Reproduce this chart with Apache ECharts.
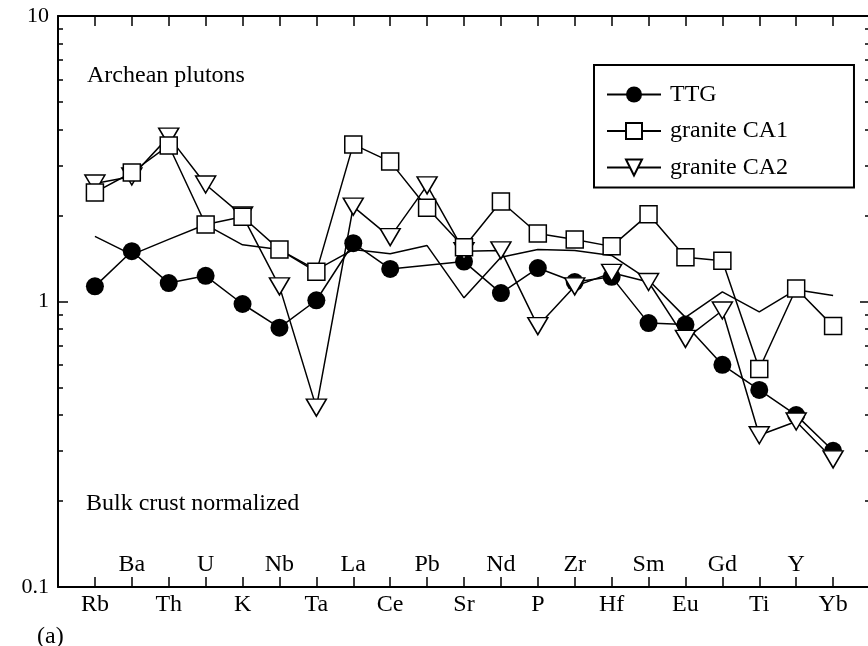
<!DOCTYPE html>
<html>
<head>
<meta charset="utf-8">
<script src="https://cdn.jsdelivr.net/npm/echarts@6/dist/echarts.min.js"></script>
<style>
html,body{margin:0;padding:0;background:#fff;}
#chart{width:868px;height:646px;}
</style>
</head>
<body>
<div id="chart"></div>
<script>
// ---- data ----
const categories = ['Rb','Ba','Th','U','K','Nb','Ta','La','Ce','Pb','Sr','Nd','P','Zr','Hf','Sm','Eu','Gd','Ti','Y','Yb'];
const ttg = [1.13,1.50,1.16,1.23,0.98,0.81,1.01,1.60,1.30,null,1.38,1.07,1.31,1.17,1.22,0.84,0.83,0.60,0.49,0.40,0.30];
const graniteCA1 = [2.41,2.83,3.52,1.86,1.98,1.52,1.27,3.55,3.09,2.13,1.55,2.24,1.73,1.65,1.56,2.02,1.43,1.39,0.58,1.11,0.82];
const graniteCA2 = [2.59,2.74,3.78,2.57,2.00,1.13,0.425,2.15,1.68,2.55,1.50,1.51,0.82,1.13,1.26,1.17,0.74,0.93,0.34,0.38,0.28];
const plainLine = [1.69,1.46,1.65,1.86,1.58,1.52,1.29,1.52,1.47,1.57,1.03,1.43,1.52,1.51,1.45,1.19,0.88,1.08,0.92,1.10,1.05];
const yMajorTicks = [0.1, 1, 10];
const yMinorTicks = [0.2,0.3,0.4,0.5,0.6,0.7,0.8,0.9,2,3,4,5,6,7,8,9];
const seriesNames = ['TTG','granite CA1','granite CA2'];

const FONT = "'Liberation Serif','Times New Roman',serif";
const toXY = arr => arr.map((v, i) => [i, v]);

const chart = echarts.init(document.getElementById('chart'), null, {renderer: 'canvas'});

const xBase = {
  type: 'value', min: -1, max: 21, interval: 1, gridIndex: 0,
  splitLine: {show: false}
};
const yBase = {
  type: 'log', logBase: 10, min: 0.1, max: 10, gridIndex: 0,
  splitLine: {show: false}
};

const option = {
  animation: false,
  backgroundColor: '#fff',
  grid: {left: 58, top: 16, width: 812, height: 571, containLabel: false, outerBoundsMode: 'none'},
  xAxis: [
    Object.assign({}, xBase, {
      position: 'bottom',
      axisLine: {show: true, onZero: false, lineStyle: {color: '#000', width: 2}},
      axisTick: {show: true, inside: true, length: 10, lineStyle: {color: '#000', width: 1.5}},
      axisLabel: {
        show: true, margin: 6, color: '#000', fontFamily: FONT, fontSize: 24,
        formatter: v => { const i = Math.round(v); return (i >= 0 && i < categories.length && i % 2 === 0) ? categories[i] : ''; }
      }
    }),
    Object.assign({}, xBase, {
      position: 'bottom',
      axisLine: {show: false, onZero: false},
      axisTick: {show: false},
      axisLabel: {
        show: true, inside: true, margin: 10, color: '#000', fontFamily: FONT, fontSize: 24,
        formatter: v => { const i = Math.round(v); return (i >= 0 && i < categories.length && i % 2 === 1) ? categories[i] : ''; }
      }
    }),
    Object.assign({}, xBase, {
      position: 'top',
      axisLine: {show: true, onZero: false, lineStyle: {color: '#000', width: 2}},
      axisTick: {show: true, inside: true, length: 10, lineStyle: {color: '#000', width: 1.5}},
      axisLabel: {show: false}
    })
  ],
  yAxis: [
    Object.assign({}, yBase, {
      position: 'left',
      axisLine: {show: true, onZero: false, lineStyle: {color: '#000', width: 2}},
      axisTick: {show: true, inside: true, length: 10, customValues: yMajorTicks, lineStyle: {color: '#000', width: 1.5}},
      axisLabel: {show: true, margin: 9, color: '#000', fontFamily: FONT, fontSize: 22, customValues: yMajorTicks,
        padding: [4, 0, 0, 0],
        formatter: v => (v < 0.5 ? '0.1' : (v < 5 ? '1' : '10'))}
    }),
    Object.assign({}, yBase, {
      position: 'left',
      axisLine: {show: false, onZero: false},
      axisTick: {show: true, inside: true, length: 5, customValues: yMinorTicks, lineStyle: {color: '#000', width: 1.5}},
      axisLabel: {show: false}
    }),
    Object.assign({}, yBase, {
      position: 'right',
      axisLine: {show: true, onZero: false, lineStyle: {color: '#000', width: 2}},
      axisTick: {show: true, inside: true, length: 10, customValues: yMajorTicks, lineStyle: {color: '#000', width: 1.5}},
      axisLabel: {show: false}
    }),
    Object.assign({}, yBase, {
      position: 'right',
      axisLine: {show: false, onZero: false},
      axisTick: {show: true, inside: true, length: 5, customValues: yMinorTicks, lineStyle: {color: '#000', width: 1.5}},
      axisLabel: {show: false}
    })
  ],
  legend: {
    show: true,
    data: seriesNames,
    orient: 'vertical',
    left: 594, top: 65,
    padding: [17.5, 66, 8, 12],
    itemWidth: 54, itemHeight: 20, itemGap: 12.5,
    borderColor: '#000', borderWidth: 2, borderRadius: 0,
    backgroundColor: '#fff',
    selectedMode: false,
    textStyle: {color: '#000', fontFamily: FONT, fontSize: 24, lineHeight: 24, padding: [0, 0, 0, 4]}
  },
  graphic: [
    {type: 'text', left: 87, top: 64, style: {text: 'Archean plutons', font: '24px ' + FONT, fill: '#000'}},
    {type: 'text', left: 86, top: 492, style: {text: 'Bulk crust normalized', font: '24px ' + FONT, fill: '#000'}},
    {type: 'text', left: 37, top: 625, style: {text: '(a)', font: '24px ' + FONT, fill: '#000'}}
  ],
  series: [
    {
      name: 'plain', type: 'line', xAxisIndex: 0, yAxisIndex: 0,
      data: toXY(plainLine), showSymbol: false, symbol: 'none',
      lineStyle: {color: '#000', width: 1.5}, z: 2
    },
    {
      name: 'TTG', type: 'line', xAxisIndex: 0, yAxisIndex: 0,
      data: toXY(ttg), connectNulls: true,
      symbol: 'circle', symbolSize: 18,
      itemStyle: {color: '#000', borderColor: '#000', borderWidth: 0},
      lineStyle: {color: '#000', width: 1.5}, z: 3
    },
    {
      name: 'granite CA2', type: 'line', xAxisIndex: 0, yAxisIndex: 0,
      data: toXY(graniteCA2),
      symbol: 'triangle', symbolRotate: 180, symbolSize: [20, 17],
      itemStyle: {color: '#fff', borderColor: '#000', borderWidth: 1.5},
      lineStyle: {color: '#000', width: 1.5}, z: 4
    },
    {
      name: 'granite CA1', type: 'line', xAxisIndex: 0, yAxisIndex: 0,
      data: toXY(graniteCA1),
      symbol: 'rect', symbolSize: 17,
      itemStyle: {color: '#fff', borderColor: '#000', borderWidth: 1.5},
      lineStyle: {color: '#000', width: 1.5}, z: 5
    }
  ]
};
chart.setOption(option);
</script>
</body>
</html>
